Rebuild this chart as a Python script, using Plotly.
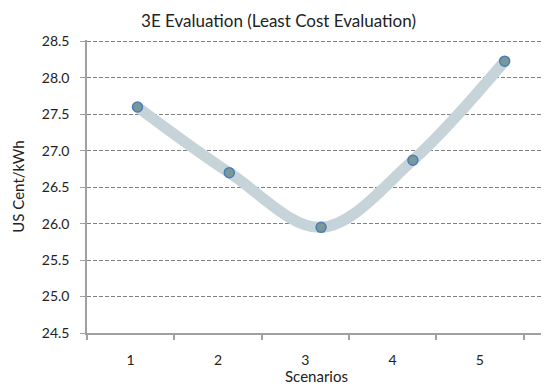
import plotly.graph_objects as go

scenarios = [1, 2, 3, 4, 5]
scenario_labels = ["1", "2", "3", "4", "5"]
cost = [27.6, 26.7, 25.95, 26.87, 28.23]
y_ticks = [24.5, 25.0, 25.5, 26.0, 26.5, 27.0, 27.5, 28.0, 28.5]

FONT = "Lato"
# page body has an 8px margin, so the figure is sized to fit the window
W, H = 541, 377

fig = go.Figure()

# invisible anchor trace for the category-label axis
fig.add_trace(go.Scatter(x=scenarios, y=cost, mode="markers", marker=dict(opacity=0),
                         hoverinfo="skip", showlegend=False, xaxis="x", yaxis="y"))
# smoothed thick line
fig.add_trace(go.Scatter(x=scenarios, y=cost, mode="lines",
                         line=dict(color="#c6d4da", width=11, shape="spline", smoothing=1.0),
                         hoverinfo="skip", showlegend=False, xaxis="x2", yaxis="y"))
# markers
fig.add_trace(go.Scatter(x=scenarios, y=cost, mode="markers",
                         marker=dict(color="#7b9898", size=10, line=dict(color="#4a7ebb", width=1.5)),
                         showlegend=False, xaxis="x2", yaxis="y"))

fig.update_layout(
    width=W, height=H,
    margin=dict(l=79, r=3, t=32, b=52),
    paper_bgcolor="white", plot_bgcolor="white",
    font=dict(family=FONT, size=14, color="#222"),
    title=dict(text="3E Evaluation (Least Cost Evaluation)", x=0.5, xanchor="center",
               y=1 - 13 / H, yanchor="middle", font=dict(family=FONT, size=17, color="#222")),
    xaxis=dict(range=[0.5, 5.757], tickvals=scenarios, ticktext=scenario_labels,
               ticks="", showgrid=False, zeroline=False,
               showline=True, linecolor="#a0a0a0", linewidth=1.5,
               minor=dict(tickvals=[0.5, 1.5, 2.5, 3.5, 4.5, 5.5], ticks="outside",
                          ticklen=5, tickcolor="#a0a0a0", tickwidth=1.5, showgrid=False),
               ticklabelstandoff=13,
               title=dict(text="Scenarios", standoff=2, font=dict(family=FONT, size=15)),
               tickfont=dict(family=FONT, size=14), fixedrange=True),
    xaxis2=dict(range=[0.45, 5.45], overlaying="x", visible=False, fixedrange=True),
    yaxis=dict(range=[24.5, 28.52], tickvals=y_ticks, ticktext=[f"{v:.1f}" for v in y_ticks],
               ticks="outside", ticklen=5, tickcolor="#a0a0a0", tickwidth=1,
               showgrid=True, gridcolor="#808080", griddash="4px,2px", gridwidth=1,
               zeroline=False, showline=True, linecolor="#a0a0a0", linewidth=1.5,
               ticklabelstandoff=8,
               title=dict(text="US Cent/kWh", standoff=14, font=dict(family=FONT, size=15)),
               tickfont=dict(family=FONT, size=14), fixedrange=True),
)

fig.write_html("out.html")
